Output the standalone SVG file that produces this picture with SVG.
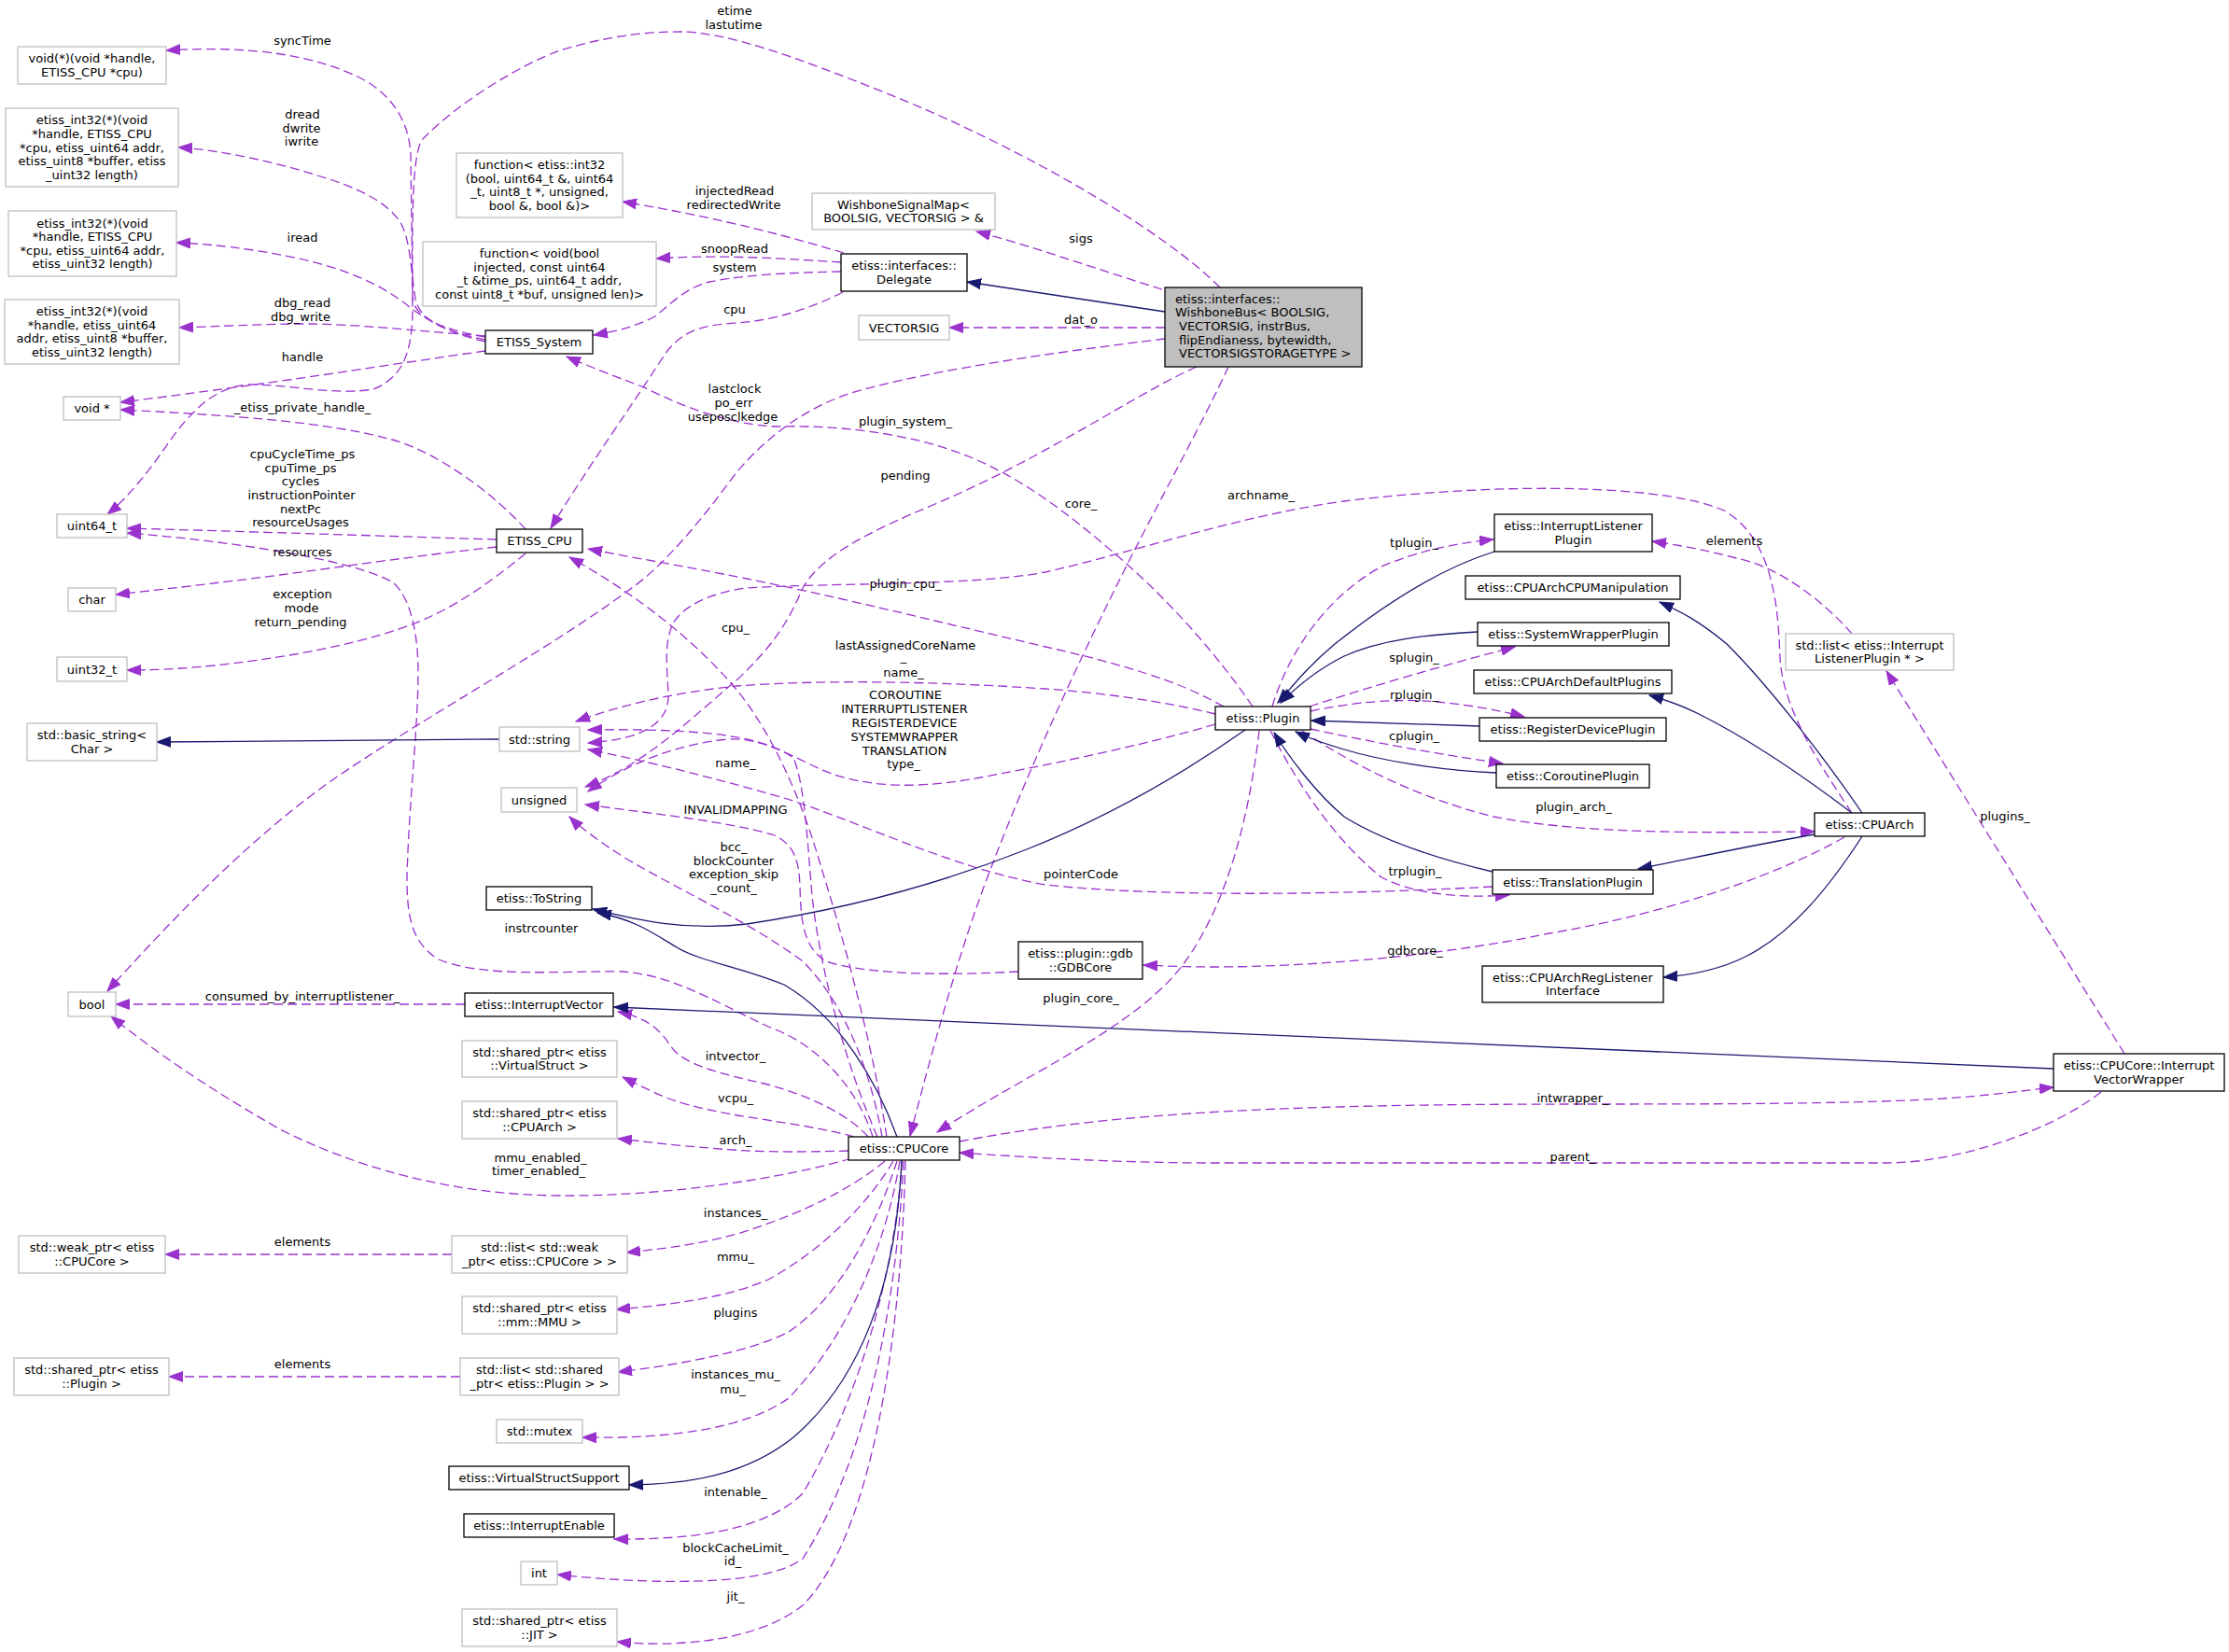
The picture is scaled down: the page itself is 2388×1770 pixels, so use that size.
<svg xmlns="http://www.w3.org/2000/svg" width="2388" height="1770" viewBox="0 0 2388 1770">
<defs>
<style>
text{font-family:"DejaVu Sans","Liberation Sans",sans-serif;font-size:13px;fill:#000;text-anchor:middle}
.nd rect{fill:#fff;stroke:#000;stroke-width:1.3}
.ext rect{stroke:#bfbfbf}
.root rect{fill:#bfbfbf}
.root text{text-anchor:start}
.e{fill:none;stroke:#9a32cd;stroke-width:1.3;stroke-dasharray:10,5;marker-end:url(#pa)}
.i{fill:none;stroke:#191970;stroke-width:1.3;marker-end:url(#ba)}
</style>
<marker id="pa" markerUnits="userSpaceOnUse" markerWidth="16" markerHeight="12" viewBox="0 0 16 12" refX="15" refY="6" orient="auto"><path d="M0,0.5 L15,6 L0,11.5 z" fill="#9a32cd" stroke="#9a32cd"/></marker>
<marker id="ba" markerUnits="userSpaceOnUse" markerWidth="16" markerHeight="12" viewBox="0 0 16 12" refX="15" refY="6" orient="auto"><path d="M0,0.5 L15,6 L0,11.5 z" fill="#191970" stroke="#191970"/></marker>
</defs>
<rect width="2388" height="1770" fill="#fff"/>
<g id="edges">
<path class="e" d="M520,361 C470,352 445,340 442,320 L440,165 C438,130 420,100 383,82 C340,62 280,48 178,54"/>
<path class="e" d="M520,364 C480,356 450,345 445,320 C440,290 440,260 430,240 C415,215 380,200 340,188 C290,172 230,160 191,158"/>
<path class="e" d="M520,366 C490,360 460,345 440,330 C410,305 370,288 320,277 C270,266 220,261 189,260"/>
<path class="e" d="M520,360 C450,355 380,347 330,347 C280,347 230,350 192,351"/>
<path class="e" d="M520,376 C420,390 300,410 129,431"/>
<path class="e" d="M1307,308 C1250,250 1100,160 950,100 C850,60 780,35 730,34 C680,34 640,42 600,54 C560,68 490,110 452,150 C440,170 442,250 442,330 C442,380 430,405 400,417 C360,424 310,412 268,412 C230,414 205,440 180,475 C160,505 135,535 115,551"/>
<path class="e" d="M563,567 C530,530 470,485 420,471 C350,452 250,445 129,439"/>
<path class="e" d="M532,578 C400,574 250,569 136,566"/>
<path class="e" d="M532,586 C450,595 360,608 300,616 C230,625 170,632 124,637"/>
<path class="e" d="M563,593 C530,620 490,650 444,668 C400,685 330,702 230,713 C190,717 160,718 136,718"/>
<path class="e" d="M935,1218 C920,1170 880,1120 823,1100 C760,1070 720,1045 667,1041 C600,1040 520,1048 470,1028 C440,1010 436,980 436,940 C438,860 448,780 448,720 C448,680 440,640 421,624 C380,600 250,580 136,571"/>
<path class="e" d="M1248,363 C1150,375 1000,395 912,421 C860,438 820,470 790,505 C760,545 730,585 690,620 C600,690 450,770 350,840 C260,905 180,990 115,1062"/>
<path class="e" d="M498,1076 L124,1076"/>
<path class="e" d="M912,1241 C850,1260 720,1282 600,1281 C480,1280 380,1250 300,1210 C230,1170 170,1130 119,1089"/>
<path class="e" d="M1342,757 C1310,710 1260,650 1200,598 C1150,555 1100,515 1040,490 C980,465 900,455 832,457 C780,455 730,435 690,415 C650,400 625,390 607,382"/>
<path class="e" d="M904,271 C850,255 780,235 667,216"/>
<path class="e" d="M901,281 C850,278 780,272 703,277"/>
<path class="e" d="M901,291 C850,292 800,294 760,302 C730,310 715,330 700,340 C680,350 660,355 636,359"/>
<path class="e" d="M903,313 C870,330 830,343 790,346 C750,348 730,355 712,380 C680,430 630,500 590,566"/>
<path class="e" d="M1245,310 C1180,290 1110,265 1046,248"/>
<path class="i" d="M1248,334 L1036,302"/>
<path class="e" d="M1248,351 L1017,351"/>
<path class="e" d="M1316,393 C1290,450 1240,540 1200,620 C1150,720 1100,830 1064,924 C1030,1010 1000,1120 975,1217"/>
<path class="e" d="M1282,393 C1220,420 1120,490 1002,540 C930,570 880,595 860,630 C845,665 830,690 790,728 C740,770 690,820 627,843"/>
<path class="e" d="M1311,757 C1280,740 1240,720 1120,693 C1000,665 900,640 800,620 C730,606 680,598 630,588"/>
<path class="e" d="M1302,765 C1250,752 1180,742 1120,738 C1000,730 880,728 790,735 C720,742 660,757 617,773"/>
<path class="e" d="M1302,776 C1220,800 1120,820 1040,835 C980,845 920,845 870,820 C840,805 810,790 780,792 C720,798 670,820 630,848"/>
<path class="e" d="M1349,783 C1340,860 1320,960 1270,1030 C1220,1100 1100,1150 1004,1213"/>
<path class="e" d="M1395,783 C1450,820 1520,855 1600,875 C1700,895 1850,892 1944,891"/>
<path class="e" d="M1363,757 C1380,700 1420,640 1480,607 C1520,590 1560,582 1600,578"/>
<path class="e" d="M1403,757 C1470,735 1550,712 1623,693"/>
<path class="e" d="M1404,762 C1450,752 1500,748 1540,752 C1580,756 1610,762 1633,768"/>
<path class="e" d="M1404,781 C1470,795 1540,808 1610,818"/>
<path class="e" d="M1361,783 C1390,840 1430,900 1480,940 C1520,960 1570,962 1617,959"/>
<path class="i" d="M1601,591 C1540,610 1480,650 1430,690 C1400,715 1385,735 1369,753"/>
<path class="i" d="M1583,677 C1530,680 1480,685 1440,703 C1410,718 1390,735 1372,753"/>
<path class="i" d="M1585,778 L1405,772"/>
<path class="i" d="M1603,828 C1540,825 1480,815 1440,803 C1420,797 1400,790 1388,784"/>
<path class="i" d="M1599,934 C1540,920 1480,900 1440,875 C1410,850 1380,810 1365,785"/>
<path class="i" d="M1334,782 C1280,820 1200,870 1100,910 C1000,950 900,975 800,990 C730,998 680,985 635,974"/>
<path class="i" d="M961,1218 C940,1160 900,1090 840,1055 C790,1035 750,1030 725,1015 C700,1000 680,985 640,978"/>
<path class="i" d="M1995,871 C1960,820 1900,740 1850,690 C1820,665 1800,655 1778,645"/>
<path class="i" d="M1984,871 C1930,830 1870,790 1820,765 C1800,755 1785,750 1767,745"/>
<path class="i" d="M1944,894 C1880,905 1820,918 1755,931"/>
<path class="i" d="M1995,896 C1960,950 1920,1000 1870,1025 C1840,1040 1810,1045 1782,1047"/>
<path class="e" d="M1976,897 C1900,940 1780,980 1660,1000 C1540,1025 1400,1036 1300,1036 C1270,1036 1250,1035 1225,1034"/>
<path class="e" d="M1984,871 C1950,820 1910,760 1907,705 C1905,650 1900,580 1849,548 C1790,520 1620,515 1440,537 C1330,552 1220,590 1120,613 C1040,628 900,624 800,630 C760,635 730,650 720,670 C710,695 716,725 716,748 C714,775 690,792 630,796"/>
<path class="e" d="M940,1218 C910,1150 880,1050 870,960 C865,900 862,840 850,812 C820,790 760,780 630,782"/>
<path class="e" d="M1599,950 C1450,958 1250,962 1120,948 C1020,930 920,880 840,855 C760,832 690,815 630,803"/>
<path class="e" d="M1091,1041 C1020,1045 930,1045 885,1030 C860,1015 858,985 857,950 C856,920 850,905 830,895 C780,880 700,872 627,862"/>
<path class="e" d="M945,1218 C935,1160 910,1080 860,1030 C800,985 700,940 660,913 C640,900 620,885 610,875"/>
<path class="e" d="M950,1218 C935,1120 905,1010 880,930 C860,860 830,790 790,740 C740,680 670,630 610,597"/>
<path class="e" d="M930,1218 C910,1195 870,1175 823,1162 C770,1150 730,1140 718,1120 C705,1100 690,1090 662,1084"/>
<path class="e" d="M915,1218 C880,1208 820,1200 790,1195 C750,1188 720,1180 700,1170 C685,1163 675,1158 667,1154"/>
<path class="e" d="M909,1233 C850,1235 800,1234 760,1230 C720,1227 690,1223 662,1220"/>
<path class="e" d="M948,1244 C910,1275 860,1300 790,1322 C750,1333 710,1338 671,1342"/>
<path class="e" d="M957,1244 C930,1290 880,1340 823,1371 C780,1390 720,1398 660,1403"/>
<path class="e" d="M961,1244 C940,1310 900,1390 845,1427 C800,1450 720,1463 662,1470"/>
<path class="e" d="M964,1244 C950,1330 910,1430 845,1498 C800,1530 720,1542 624,1540"/>
<path class="e" d="M966,1244 C960,1360 920,1500 860,1600 C820,1640 740,1650 658,1649"/>
<path class="e" d="M968,1244 C960,1400 930,1560 860,1670 C820,1700 700,1698 597,1687"/>
<path class="e" d="M970,1244 C965,1450 930,1650 860,1720 C810,1760 720,1765 661,1759"/>
<path class="i" d="M966,1243 C960,1380 920,1480 850,1540 C800,1580 740,1590 674,1591"/>
<path class="e" d="M1028,1223 C1200,1190 1400,1183 1700,1183 C1900,1183 2050,1182 2130,1173 C2160,1170 2180,1167 2200,1165"/>
<path class="e" d="M2251,1170 C2200,1210 2100,1246 2020,1246 L1300,1246 C1200,1246 1100,1240 1028,1235"/>
<path class="i" d="M2200,1145 L658,1079"/>
<path class="e" d="M2276,1129 L2021,719"/>
<path class="e" d="M1984,679 C1950,640 1900,605 1860,598 C1830,590 1800,584 1770,580"/>
<path class="i" d="M535,792 L168,795"/>
<path class="e" d="M484,1344 L177,1344"/>
<path class="e" d="M493,1475 L181,1475"/>
</g>
<g id="edge-labels">
<text x="787" y="16">etime</text><text x="786" y="31">lastutime</text>
<text x="324" y="47.5">syncTime</text>
<text x="324" y="127">dread</text><text x="323" y="141.5">dwrite</text><text x="323" y="156">iwrite</text>
<text x="324" y="258.5">iread</text>
<text x="324" y="329">dbg_read</text><text x="322" y="343.5">dbg_write</text>
<text x="324" y="386.5">handle</text>
<text x="324" y="440.5">_etiss_private_handle_</text>
<text x="324" y="491">cpuCycleTime_ps</text><text x="322" y="505.5">cpuTime_ps</text><text x="322" y="520">cycles</text><text x="323" y="535">instructionPointer</text><text x="322" y="549.5">nextPc</text><text x="322" y="564">resourceUsages</text>
<text x="324" y="595.5">resources</text>
<text x="324" y="641">exception</text><text x="323" y="656">mode</text><text x="322" y="671">return_pending</text>
<text x="787" y="209">injectedRead</text><text x="786" y="224">redirectedWrite</text>
<text x="787" y="271">snoopRead</text>
<text x="787" y="290.5">system</text>
<text x="787" y="335.5">cpu</text>
<text x="1158" y="259.5">sigs</text>
<text x="1158" y="347">dat_o</text>
<text x="787" y="421">lastclock</text><text x="786" y="436">po_err</text><text x="785" y="451">useposclkedge</text>
<text x="970" y="456">plugin_system_</text>
<text x="970" y="513.5">pending</text>
<text x="1158" y="544">core_</text>
<text x="1351" y="535">archname_</text>
<text x="970" y="629.5">plugin_cpu_</text>
<text x="788" y="676.5">cpu_</text>
<text x="970" y="696">lastAssignedCoreName</text><text x="968" y="708">_</text><text x="968" y="725">name_</text>
<text x="970" y="749">COROUTINE</text><text x="969" y="764">INTERRUPTLISTENER</text><text x="969" y="779">REGISTERDEVICE</text><text x="969" y="793.5">SYSTEMWRAPPER</text><text x="969" y="808.5">TRANSLATION</text><text x="968" y="823">type_</text>
<text x="788" y="821.5">name_</text>
<text x="788" y="871.5">INVALIDMAPPING</text>
<text x="786" y="912">bcc_</text><text x="786" y="927">blockCounter</text><text x="786" y="941">exception_skip</text><text x="786" y="956">_count_</text>
<text x="1158" y="940.5">pointerCode</text>
<text x="580" y="999">instrcounter</text>
<text x="324" y="1072">consumed_by_interruptlistener_</text>
<text x="1158" y="1073.5">plugin_core_</text>
<text x="1516" y="1023">gdbcore_</text>
<text x="788" y="1135.5">intvector_</text>
<text x="788" y="1180.5">vcpu_</text>
<text x="788" y="1225.5">arch_</text>
<text x="579" y="1244.5">mmu_enabled_</text><text x="577" y="1259">timer_enabled_</text>
<text x="788" y="1304">instances_</text>
<text x="324" y="1334.5">elements</text>
<text x="788" y="1351">mmu_</text>
<text x="788" y="1411">plugins</text>
<text x="324" y="1465.5">elements</text>
<text x="788" y="1477">instances_mu_</text><text x="785" y="1492.5">mu_</text>
<text x="788" y="1602.5">intenable_</text>
<text x="788" y="1663">blockCacheLimit_</text><text x="785" y="1677">id_</text>
<text x="788" y="1715">jit_</text>
<text x="1685" y="1180.5">intwrapper_</text>
<text x="1685" y="1243.5">parent_</text>
<text x="1515" y="585.5">tplugin_</text>
<text x="1515" y="708.5">splugin_</text>
<text x="1515" y="748.5">rplugin_</text>
<text x="1515" y="792.5">cplugin_</text>
<text x="1516" y="937.5">trplugin_</text>
<text x="1686" y="868.5">plugin_arch_</text>
<text x="1858" y="584">elements</text>
<text x="2148" y="878.5">plugins_</text>
</g>
<g id="nodes">
<g id="n-wishbonebus" class="nd root"><rect x="1248" y="308" width="211" height="85"/><text x="1259" y="324.5">etiss::interfaces::</text><text x="1259" y="339">WishboneBus&lt; BOOLSIG,</text><text x="1263" y="354">VECTORSIG, instrBus,</text><text x="1263" y="368.8">flipEndianess, bytewidth,</text><text x="1263" y="383">VECTORSIGSTORAGETYPE &gt;</text></g>
<g id="n-delegate" class="nd"><rect x="901" y="272" width="135" height="40"/><text x="968.5" y="289.2">etiss::interfaces::</text><text x="968.5" y="303.8">Delegate</text></g>
<g id="n-wsm" class="nd ext"><rect x="870" y="207" width="196" height="39"/><text x="968" y="223.7">WishboneSignalMap&lt;</text><text x="968" y="238.3">BOOLSIG, VECTORSIG &gt; &amp;</text></g>
<g id="n-vectorsig" class="nd ext"><rect x="920" y="338" width="97" height="26"/><text x="968.5" y="355.5">VECTORSIG</text></g>
<g id="n-fint32" class="nd ext"><rect x="489" y="164" width="178" height="69"/><text x="578" y="181.1">function&lt; etiss::int32</text><text x="578" y="195.7">(bool, uint64_t &amp;, uint64</text><text x="578" y="210.3">_t, uint8_t *, unsigned,</text><text x="578" y="224.9">bool &amp;, bool &amp;)&gt;</text></g>
<g id="n-fvoid" class="nd ext"><rect x="453" y="259" width="250" height="69"/><text x="578" y="276.1">function&lt; void(bool</text><text x="578" y="290.7">injected, const uint64</text><text x="578" y="305.3">_t &amp;time_ps, uint64_t addr,</text><text x="578" y="319.9">const uint8_t *buf, unsigned len)&gt;</text></g>
<g id="n-etiss-system" class="nd"><rect x="520" y="354" width="115" height="25"/><text x="577.5" y="371">ETISS_System</text></g>
<g id="n-etiss-cpu" class="nd"><rect x="532" y="567" width="92" height="25"/><text x="578" y="584">ETISS_CPU</text></g>
<g id="n-void-sync" class="nd ext"><rect x="19" y="50" width="159" height="40"/><text x="98.5" y="67.2">void(*)(void *handle,</text><text x="98.5" y="81.8">ETISS_CPU *cpu)</text></g>
<g id="n-dread" class="nd ext"><rect x="6" y="116" width="185" height="84"/><text x="98.5" y="133.3">etiss_int32(*)(void</text><text x="98.5" y="147.9">*handle, ETISS_CPU</text><text x="98.5" y="162.5">*cpu, etiss_uint64 addr,</text><text x="98.5" y="177.1">etiss_uint8 *buffer, etiss</text><text x="98.5" y="191.7">_uint32 length)</text></g>
<g id="n-iread" class="nd ext"><rect x="9" y="226" width="180" height="70"/><text x="99" y="243.6">etiss_int32(*)(void</text><text x="99" y="258.2">*handle, ETISS_CPU</text><text x="99" y="272.8">*cpu, etiss_uint64 addr,</text><text x="99" y="287.4">etiss_uint32 length)</text></g>
<g id="n-dbg" class="nd ext"><rect x="5" y="321" width="187" height="69"/><text x="98.5" y="338.1">etiss_int32(*)(void</text><text x="98.5" y="352.7">*handle, etiss_uint64</text><text x="98.5" y="367.3">addr, etiss_uint8 *buffer,</text><text x="98.5" y="381.9">etiss_uint32 length)</text></g>
<g id="n-voidp" class="nd ext"><rect x="68" y="425" width="61" height="25"/><text x="98.5" y="442">void *</text></g>
<g id="n-uint64" class="nd ext"><rect x="61" y="551" width="75" height="25"/><text x="98.5" y="568">uint64_t</text></g>
<g id="n-char" class="nd ext"><rect x="73" y="630" width="51" height="25"/><text x="98.5" y="647">char</text></g>
<g id="n-uint32" class="nd ext"><rect x="61" y="704" width="75" height="26"/><text x="98.5" y="721.5">uint32_t</text></g>
<g id="n-basic-string" class="nd ext"><rect x="29" y="775" width="139" height="40"/><text x="98.5" y="792.2">std::basic_string&lt;</text><text x="98.5" y="806.8">Char &gt;</text></g>
<g id="n-string" class="nd ext"><rect x="535" y="779" width="86" height="26"/><text x="578" y="796.5">std::string</text></g>
<g id="n-unsigned" class="nd ext"><rect x="537" y="844" width="81" height="26"/><text x="577.5" y="861.5">unsigned</text></g>
<g id="n-tostring" class="nd"><rect x="521" y="950" width="113" height="25"/><text x="577.5" y="967">etiss::ToString</text></g>
<g id="n-bool" class="nd ext"><rect x="73" y="1063" width="51" height="26"/><text x="98.5" y="1080.5">bool</text></g>
<g id="n-intvector" class="nd"><rect x="498" y="1064" width="159" height="25"/><text x="577.5" y="1081">etiss::InterruptVector</text></g>
<g id="n-vs-shared" class="nd ext"><rect x="495" y="1115" width="166" height="39"/><text x="578" y="1131.7">std::shared_ptr&lt; etiss</text><text x="578" y="1146.3">::VirtualStruct &gt;</text></g>
<g id="n-arch-shared" class="nd ext"><rect x="495" y="1180" width="166" height="40"/><text x="578" y="1197.2">std::shared_ptr&lt; etiss</text><text x="578" y="1211.8">::CPUArch &gt;</text></g>
<g id="n-weak-ptr" class="nd ext"><rect x="20" y="1324" width="157" height="40"/><text x="98.5" y="1341.2">std::weak_ptr&lt; etiss</text><text x="98.5" y="1355.8">::CPUCore &gt;</text></g>
<g id="n-list-weak" class="nd ext"><rect x="484" y="1324" width="188" height="40"/><text x="578" y="1341.2">std::list&lt; std::weak</text><text x="578" y="1355.8">_ptr&lt; etiss::CPUCore &gt; &gt;</text></g>
<g id="n-mmu-shared" class="nd ext"><rect x="495" y="1389" width="166" height="40"/><text x="578" y="1406.2">std::shared_ptr&lt; etiss</text><text x="578" y="1420.8">::mm::MMU &gt;</text></g>
<g id="n-plugin-shared" class="nd ext"><rect x="15" y="1455" width="166" height="40"/><text x="98" y="1472.2">std::shared_ptr&lt; etiss</text><text x="98" y="1486.8">::Plugin &gt;</text></g>
<g id="n-list-shared" class="nd ext"><rect x="493" y="1455" width="170" height="40"/><text x="578" y="1472.2">std::list&lt; std::shared</text><text x="578" y="1486.8">_ptr&lt; etiss::Plugin &gt; &gt;</text></g>
<g id="n-mutex" class="nd ext"><rect x="532" y="1521" width="92" height="25"/><text x="578" y="1538">std::mutex</text></g>
<g id="n-vss" class="nd"><rect x="481" y="1571" width="193" height="25"/><text x="577.5" y="1588">etiss::VirtualStructSupport</text></g>
<g id="n-intenable" class="nd"><rect x="497" y="1622" width="161" height="25"/><text x="577.5" y="1639">etiss::InterruptEnable</text></g>
<g id="n-int" class="nd ext"><rect x="558" y="1673" width="39" height="25"/><text x="577.5" y="1690">int</text></g>
<g id="n-jit" class="nd ext"><rect x="495" y="1724" width="166" height="40"/><text x="578" y="1741.2">std::shared_ptr&lt; etiss</text><text x="578" y="1755.8">::JIT &gt;</text></g>
<g id="n-cpucore" class="nd"><rect x="909" y="1218" width="119" height="25"/><text x="968.5" y="1235">etiss::CPUCore</text></g>
<g id="n-gdbcore" class="nd"><rect x="1091" y="1009" width="133" height="40"/><text x="1157.5" y="1026.2">etiss::plugin::gdb</text><text x="1157.5" y="1040.8">::GDBCore</text></g>
<g id="n-plugin" class="nd"><rect x="1302" y="757" width="102" height="25"/><text x="1353" y="774">etiss::Plugin</text></g>
<g id="n-ilp" class="nd"><rect x="1601" y="551" width="169" height="40"/><text x="1685.5" y="568.2">etiss::InterruptListener</text><text x="1685.5" y="582.8">Plugin</text></g>
<g id="n-cpumanip" class="nd"><rect x="1570" y="617" width="230" height="25"/><text x="1685" y="634">etiss::CPUArchCPUManipulation</text></g>
<g id="n-swp" class="nd"><rect x="1583" y="667" width="205" height="25"/><text x="1685.5" y="684">etiss::SystemWrapperPlugin</text></g>
<g id="n-cadp" class="nd"><rect x="1579" y="718" width="212" height="25"/><text x="1685" y="735">etiss::CPUArchDefaultPlugins</text></g>
<g id="n-rdp" class="nd"><rect x="1585" y="769" width="200" height="25"/><text x="1685" y="786">etiss::RegisterDevicePlugin</text></g>
<g id="n-cop" class="nd"><rect x="1603" y="819" width="164" height="25"/><text x="1685" y="836">etiss::CoroutinePlugin</text></g>
<g id="n-trp" class="nd"><rect x="1599" y="932" width="172" height="26"/><text x="1685" y="949.5">etiss::TranslationPlugin</text></g>
<g id="n-reglistener" class="nd"><rect x="1588" y="1035" width="194" height="39"/><text x="1685" y="1051.7">etiss::CPUArchRegListener</text><text x="1685" y="1066.3">Interface</text></g>
<g id="n-cpuarch" class="nd"><rect x="1944" y="871" width="118" height="25"/><text x="2003" y="888">etiss::CPUArch</text></g>
<g id="n-list-ilp" class="nd ext"><rect x="1913" y="679" width="180" height="39"/><text x="2003" y="695.7">std::list&lt; etiss::Interrupt</text><text x="2003" y="710.3">ListenerPlugin * &gt;</text></g>
<g id="n-ivw" class="nd"><rect x="2200" y="1129" width="183" height="40"/><text x="2291.5" y="1146.2">etiss::CPUCore::Interrupt</text><text x="2291.5" y="1160.8">VectorWrapper</text></g>
</g>
</svg>
